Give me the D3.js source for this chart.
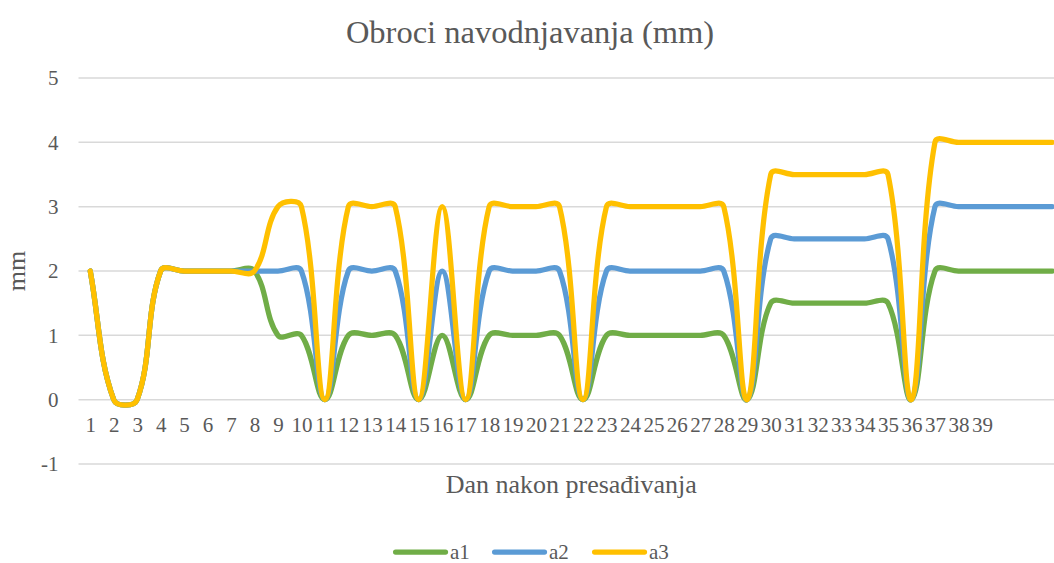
<!DOCTYPE html>
<html>
<head>
<meta charset="utf-8">
<script src="https://cdn.jsdelivr.net/npm/d3@7"></script>
<style>
  html, body { margin: 0; padding: 0; background: #fff; overflow: hidden; }
  svg { display: block; overflow: hidden; }
  svg text { font-family: "Liberation Serif", "Times New Roman", Tinos, "DejaVu Serif", serif; fill: #595959; }
</style>
</head>
<body>
<div id="chart"></div>
<script>
// day labels (the last three categories carry no label in the original sheet)
var days = ["1","2","3","4","5","6","7","8","9","10","11","12","13","14","15","16","17","18","19","20",
            "21","22","23","24","25","26","27","28","29","30","31","32","33","34","35","36","37","38","39",
            "","",""];
var a1 = [2,0,0,2,2,2,2,2,1,1,0,1,1,1,0,1,0,1,1,1,1,0,1,1,1,1,1,1,0,1.5,1.5,1.5,1.5,1.5,1.5,0,2,2,2,2,2,2];
var a2 = [2,0,0,2,2,2,2,2,2,2,0,2,2,2,0,2,0,2,2,2,2,0,2,2,2,2,2,2,0,2.5,2.5,2.5,2.5,2.5,2.5,0,3,3,3,3,3,3];
var a3 = [2,0,0,2,2,2,2,2,3,3,0,3,3,3,0,3,0,3,3,3,3,0,3,3,3,3,3,3,0,3.5,3.5,3.5,3.5,3.5,3.5,0,4,4,4,4,4,4];
var yTicks = [-1, 0, 1, 2, 3, 4, 5];
var seriesNames = ["a1", "a2", "a3"];
var seriesColors = ["#70AD47", "#5B9BD5", "#FFC000"];

var W = 1054, H = 563;
var plot = { left: 78.5, right: 1064, top: 78, bottom: 464 };

var svg = d3.select("#chart").append("svg")
  .attr("width", W).attr("height", H);

var x = d3.scalePoint()
  .domain(d3.range(days.length))
  .range([plot.left, plot.right])
  .padding(0.5);

var y = d3.scaleLinear()
  .domain([-1, 5])
  .range([plot.bottom, plot.top]);

// gridlines
svg.append("g").selectAll("line")
  .data(yTicks)
  .enter().append("line")
  .attr("x1", plot.left).attr("x2", plot.right)
  .attr("y1", function(d) { return y(d); })
  .attr("y2", function(d) { return y(d); })
  .attr("stroke", "#D9D9D9").attr("stroke-width", 1.5);

// y axis labels
var yAxis = svg.append("g")
  .attr("transform", "translate(" + plot.left + ",0)")
  .call(d3.axisLeft(y).tickValues(yTicks).tickSize(0).tickPadding(20)
    .tickFormat(function(d) { return String(d); }));
yAxis.attr("font-family", null).attr("font-size", null);
yAxis.select(".domain").remove();
yAxis.selectAll("text").style("font-size", "21px").attr("fill", "#595959");

// x axis labels at zero line
var xAxis = svg.append("g")
  .attr("transform", "translate(0," + y(0) + ")")
  .call(d3.axisBottom(x).tickSize(0).tickPadding(17).tickFormat(function(i) { return days[i]; }));
xAxis.attr("font-family", null).attr("font-size", null);
xAxis.select(".domain").remove();
xAxis.selectAll("text").style("font-size", "21px").attr("fill", "#595959");

// excel-like smoothing: tangent split by neighbouring chord lengths
function smoothPath(pts) {
  var k = 0.38, p = d3.path(), n = pts.length;
  var dist = function(a, b) { return Math.hypot(b[0] - a[0], b[1] - a[1]); };
  var ctrl = pts.map(function(pt, i) {
    var prev = pts[Math.max(i - 1, 0)], next = pts[Math.min(i + 1, n - 1)];
    var tx = next[0] - prev[0], ty = next[1] - prev[1];
    var dp = dist(prev, pt), dn = dist(pt, next), s = dp + dn || 1;
    return {
      inn: [pt[0] - tx * k * dp / s, pt[1] - ty * k * dp / s],
      out: [pt[0] + tx * k * dn / s, pt[1] + ty * k * dn / s]
    };
  });
  p.moveTo(pts[0][0], pts[0][1]);
  for (var i = 1; i < n; i++) {
    p.bezierCurveTo(ctrl[i - 1].out[0], ctrl[i - 1].out[1], ctrl[i].inn[0], ctrl[i].inn[1], pts[i][0], pts[i][1]);
  }
  return p.toString();
}

var allSeries = [a1, a2, a3];
svg.append("g").selectAll("path")
  .data(allSeries)
  .enter().append("path")
  .attr("d", function(vals) {
    return smoothPath(vals.map(function(v, i) { return [x(i), y(v)]; }));
  })
  .attr("fill", "none")
  .attr("stroke", function(d, i) { return seriesColors[i]; })
  .attr("stroke-width", 5.25)
  .attr("stroke-linecap", "round")
  .attr("stroke-linejoin", "round");

// title
svg.append("text")
  .attr("x", 530).attr("y", 43)
  .attr("text-anchor", "middle")
  .style("font-size", "32.5px")
  .text("Obroci navodnjavanja (mm)");

// axis titles
svg.append("text")
  .attr("x", (plot.left + plot.right) / 2).attr("y", 493)
  .attr("text-anchor", "middle")
  .style("font-size", "26px")
  .text("Dan nakon presađivanja");

svg.append("text")
  .attr("transform", "translate(25," + ((plot.top + plot.bottom) / 2) + ") rotate(-90)")
  .attr("text-anchor", "middle")
  .style("font-size", "26px")
  .text("mm");

// legend
var legendX = [393, 492, 592];
var legend = svg.append("g").selectAll("g")
  .data(seriesNames)
  .enter().append("g")
  .attr("transform", function(d, i) { return "translate(" + legendX[i] + ",552)"; });
legend.append("line")
  .attr("x1", 2.6).attr("x2", 52.5)
  .attr("y1", 0).attr("y2", 0)
  .attr("stroke", function(d, i) { return seriesColors[i]; })
  .attr("stroke-width", 5.25)
  .attr("stroke-linecap", "round");
legend.append("text")
  .attr("x", 57).attr("y", 7)
  .style("font-size", "21px")
  .text(function(d) { return d; });
</script>
</body>
</html>
